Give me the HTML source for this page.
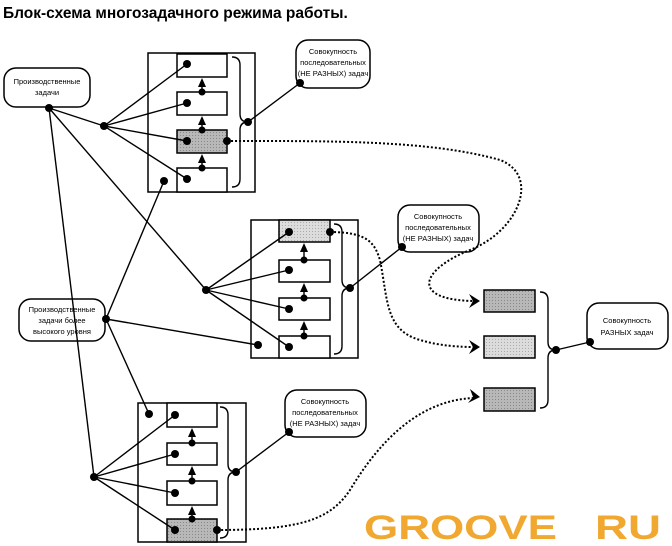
<!DOCTYPE html>
<html><head><meta charset="utf-8"><style>
body{margin:0;background:#fff;width:672px;height:546px;overflow:hidden}
svg{display:block}
text{font-family:"Liberation Sans",sans-serif}
</style></head><body>
<svg width="672" height="546" viewBox="0 0 672 546" xmlns="http://www.w3.org/2000/svg">
<defs>
<pattern id="dk" width="3" height="3" patternUnits="userSpaceOnUse"><rect width="3" height="3" fill="#b8b8b8"/><rect width="1" height="1" fill="#888"/></pattern>
<pattern id="lt" width="3" height="3" patternUnits="userSpaceOnUse"><rect width="3" height="3" fill="#dcdcdc"/><rect width="1" height="1" fill="#aaa"/></pattern>
</defs>
<text x="3" y="18" font-size="15.5" font-weight="bold">Блок-схема многозадачного режима работы.</text>

<g fill="#fff" stroke="#000" stroke-width="1.5">
<rect x="148" y="53" width="107" height="139"/>
<rect x="177" y="54" width="50" height="23"/>
<rect x="177" y="92" width="50" height="23"/>
<rect x="177" y="130" width="50" height="23" fill="url(#dk)"/>
<rect x="177" y="168" width="50" height="24"/>
<rect x="251" y="220" width="107" height="138"/>
<rect x="279" y="220" width="51" height="22" fill="url(#lt)"/>
<rect x="279" y="260" width="51" height="22"/>
<rect x="279" y="298" width="51" height="22"/>
<rect x="279" y="336" width="51" height="22"/>
<rect x="138" y="403" width="108" height="139"/>
<rect x="167" y="403" width="50" height="24"/>
<rect x="167" y="443" width="50" height="22"/>
<rect x="167" y="481" width="50" height="24"/>
<rect x="167" y="519" width="50" height="23" fill="url(#dk)"/>
<rect x="484" y="290" width="51" height="22" fill="url(#dk)"/>
<rect x="484" y="336" width="51" height="22" fill="url(#lt)"/>
<rect x="484" y="388" width="51" height="23" fill="url(#dk)"/>
<rect x="4" y="68" width="86" height="39" rx="12"/>
<rect x="296" y="40" width="74" height="48" rx="12"/>
<rect x="19" y="299" width="86" height="42" rx="12"/>
<rect x="398" y="205" width="81" height="47" rx="12"/>
<rect x="285" y="390" width="81" height="47" rx="12"/>
<rect x="587" y="303" width="81" height="46" rx="12"/>
</g>

<g fill="none" stroke="#000" stroke-width="1.4">
<path d="M232,57 Q240,57 240,65 L240,114 Q240,122 248,122 Q240,122 240,130 L240,179 Q240,187 232,187"/>
<path d="M334,224 Q342,224 342,232 L342,280 Q342,288 350,288 Q342,288 342,296 L342,346 Q342,354 334,354"/>
<path d="M220,407 Q228,407 228,415 L228,464 Q228,472 236,472 Q228,472 228,480 L228,530 Q228,538 220,538"/>
<path d="M540,292 Q548,292 548,300 L548,342 Q548,350 556,350 Q548,350 548,358 L548,400 Q548,408 540,408"/>
<line x1="248" y1="122" x2="300" y2="83"/>
<line x1="350" y1="288" x2="402" y2="247"/>
<line x1="236" y1="472" x2="289" y2="432"/>
<line x1="556" y1="350" x2="590" y2="342"/>
<path d="M104,126 L187,64 M104,126 L187,103 M104,126 L187,141 M104,126 L187,179"/>
<path d="M206,290 L289,232 M206,290 L289,270 M206,290 L289,309 M206,290 L289,347"/>
<path d="M94,477 L175,415 M94,477 L175,454 M94,477 L175,493 M94,477 L175,530"/>
<line x1="49" y1="108" x2="104" y2="126"/>
<line x1="49" y1="108" x2="206" y2="290"/>
<line x1="49" y1="108" x2="94" y2="477"/>
<line x1="164" y1="181" x2="106" y2="319"/>
<line x1="106" y1="319" x2="258" y2="345"/>
<line x1="106" y1="319" x2="149" y2="414"/>
<path d="M202,92 V80 M202,130 V118 M202,168 V156 M304,260 V245 M304,298 V285 M304,336 V323 M192,443 V430 M192,481 V468 M192,519 V508"/>
</g>

<g fill="#000">
<polygon points="202,78 198,87 206,87"/><polygon points="202,116 198,125 206,125"/><polygon points="202,154 198,163 206,163"/>
<polygon points="304,243 300,252 308,252"/><polygon points="304,283 300,292 308,292"/><polygon points="304,321 300,330 308,330"/>
<polygon points="192,428 188,437 196,437"/><polygon points="192,466 188,475 196,475"/><polygon points="192,506 188,515 196,515"/>
<polygon points="480,301 469,294 473,301 469,308"/>
<polygon points="480,347 469,340 473,347 469,354"/>
<polygon points="480,397 470,389 473,397 468,403"/>
</g>

<g fill="none" stroke="#000" stroke-width="2" stroke-dasharray="2,2">
<path d="M227,141 C330,141 430,140 500,160 C540,175 520,230 470,250 C420,270 410,300 474,301"/>
<path d="M330,232 C370,232 375,245 380,260 C388,300 385,330 420,340 C440,346 460,347 474,347"/>
<path d="M217,530 C300,530 330,520 350,490 C380,440 420,400 474,398"/>
</g>

<g fill="#000">
<circle cx="49" cy="108" r="4"/><circle cx="104" cy="126" r="4"/>
<circle cx="187" cy="64" r="4"/><circle cx="187" cy="103" r="4"/><circle cx="187" cy="141" r="4"/><circle cx="187" cy="179" r="4"/>
<circle cx="227" cy="141" r="4"/><circle cx="164" cy="181" r="4"/>
<circle cx="202" cy="92" r="3.5"/><circle cx="202" cy="130" r="3.5"/><circle cx="202" cy="168" r="3.5"/>
<circle cx="248" cy="122" r="4"/><circle cx="300" cy="83" r="4"/>
<circle cx="206" cy="290" r="4"/><circle cx="106" cy="319" r="4"/><circle cx="258" cy="345" r="4"/>
<circle cx="289" cy="232" r="4"/><circle cx="289" cy="270" r="4"/><circle cx="289" cy="309" r="4"/><circle cx="289" cy="347" r="4"/>
<circle cx="330" cy="232" r="4"/>
<circle cx="304" cy="260" r="3.5"/><circle cx="304" cy="298" r="3.5"/><circle cx="304" cy="336" r="3.5"/>
<circle cx="350" cy="288" r="4"/><circle cx="402" cy="247" r="4"/>
<circle cx="94" cy="477" r="4"/><circle cx="149" cy="414" r="4"/>
<circle cx="175" cy="415" r="4"/><circle cx="175" cy="454" r="4"/><circle cx="175" cy="493" r="4"/><circle cx="175" cy="530" r="4"/>
<circle cx="192" cy="443" r="3.5"/><circle cx="192" cy="481" r="3.5"/><circle cx="192" cy="519" r="3.5"/>
<circle cx="217" cy="530" r="4"/>
<circle cx="236" cy="472" r="4"/><circle cx="289" cy="432" r="4"/>
<circle cx="556" cy="350" r="4"/><circle cx="590" cy="342" r="4"/>
</g>

<g font-size="7.5" text-anchor="middle" fill="#000">
<text x="47" y="84">Производственные</text><text x="47" y="95">задачи</text>
<text x="333" y="54">Совокупность</text><text x="333" y="65">последовательных</text><text x="333" y="76">(НЕ РАЗНЫХ) задач</text>
<text x="62" y="312">Производственные</text><text x="62" y="323">задачи более</text><text x="62" y="334">высокого уровня</text>
<text x="438" y="219">Совокупность</text><text x="438" y="230">последовательных</text><text x="438" y="241">(НЕ РАЗНЫХ) задач</text>
<text x="325" y="404">Совокупность</text><text x="325" y="415">последовательных</text><text x="325" y="426">(НЕ РАЗНЫХ) задач</text>
<text x="627" y="323">Совокупность</text><text x="627" y="335">РАЗНЫХ задач</text>
</g>

<text x="364" y="539" font-size="34" font-weight="bold" fill="#f0a830" textLength="193" lengthAdjust="spacingAndGlyphs">GROOVE</text>
<text x="595" y="539" font-size="34" font-weight="bold" fill="#f0a830" textLength="66" lengthAdjust="spacingAndGlyphs">RU</text>
</svg>
</body></html>
